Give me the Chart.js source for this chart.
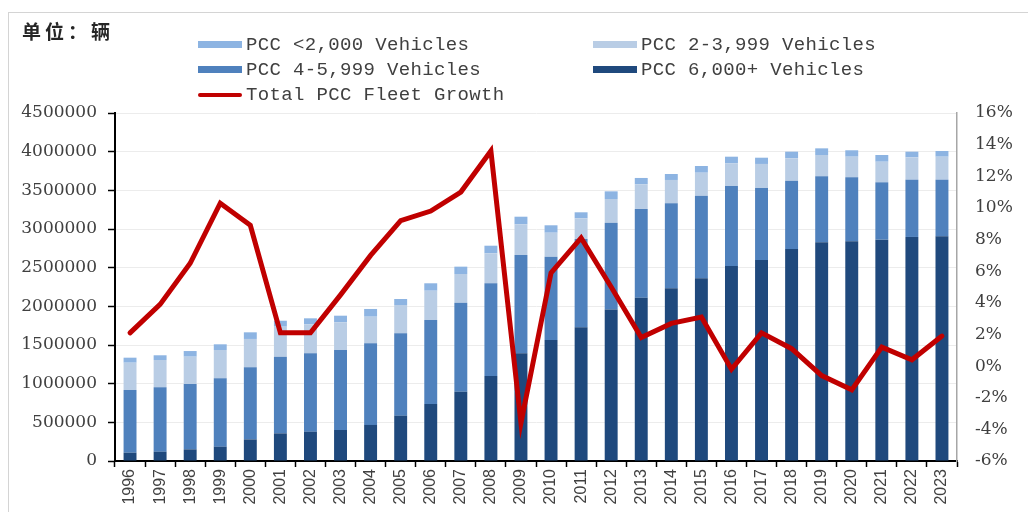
<!DOCTYPE html>
<html>
<head>
<meta charset="utf-8">
<script src="https://cdn.jsdelivr.net/npm/chart.js@4.4.1/dist/chart.umd.min.js"></script>
<style>
  html, body { margin: 0; padding: 0; background: #fff; }
  #wrap { position: relative; width: 1028px; height: 512px; overflow: hidden; }
  #frame { position: absolute; left: 8px; top: 12px; width: 1100px; height: 600px; border: 1px solid #d4d4d4; box-sizing: border-box; }
  #chart { position: absolute; left: 0; top: 0; }
  #unit { position: absolute; left: 22px; top: 17px; font-family: 'Noto Sans CJK SC', sans-serif; font-weight: 700; font-size: 19px; letter-spacing: 4px; color: #262626; }
  #legend { position: absolute; left: 198px; top: 32px; display: grid; grid-template-columns: 395px 395px; grid-auto-rows: 25px; }
  .item { display: flex; align-items: center; font-family: 'Liberation Mono', monospace; font-size: 19px; letter-spacing: 0.35px; color: #404040; white-space: pre; }
  .swatch { width: 44px; margin-right: 4px; }
</style>
</head>
<body>
<div id="wrap">
  <div id="frame"></div>
  <canvas id="chart" width="1028" height="512"></canvas>
  <div id="unit">单位：辆</div>
  <div id="legend"></div>
</div>
<script>
const years = ['1996', '1997', '1998', '1999', '2000', '2001', '2002', '2003', '2004', '2005',
  '2006', '2007', '2008', '2009', '2010', '2011', '2012', '2013', '2014', '2015',
  '2016', '2017', '2018', '2019', '2020', '2021', '2022', '2023'];

// fleet by size band (vehicles), stacked bottom to top
const pcc6000plus = [107000, 120000, 151000, 185000, 280000, 358000, 379000, 401000, 466000, 586000,
  737000, 897000, 1099000, 1392000, 1565000, 1729000, 1958000, 2112000, 2233000, 2362000,
  2522000, 2599000, 2741000, 2828000, 2841000, 2862000, 2897000, 2906000];
const pcc4to5999 = [811000, 833000, 845000, 884000, 931000, 991000, 1013000, 1034000, 1056000, 1065000,
  1086000, 1150000, 1199000, 1272000, 1077000, 1141000, 1124000, 1147000, 1099000, 1069000,
  1034000, 931000, 884000, 853000, 827000, 742000, 741000, 732000];
const pcc2to3999 = [353000, 353000, 353000, 366000, 367000, 388000, 375000, 358000, 344000, 366000,
  379000, 371000, 388000, 397000, 310000, 268000, 306000, 319000, 302000, 297000,
  294000, 311000, 289000, 276000, 267000, 266000, 289000, 297000];
const pccUnder2000 = [65000, 61000, 73000, 74000, 86000, 77000, 78000, 86000, 100000, 78000,
  96000, 95000, 98000, 98000, 96000, 78000, 99000, 82000, 77000, 87000,
  85000, 81000, 86000, 86000, 83000, 87000, 73000, 74000];

// total fleet growth, %
const fleetGrowth = [2.1, 3.9, 6.5, 10.3, 8.9, 2.1, 2.1, 4.5, 7.0, 9.2,
  9.8, 11.0, 13.6, -3.6, 5.9, 8.1, 5.0, 1.8, 2.7, 3.1,
  -0.2, 2.1, 1.1, -0.6, -1.5, 1.2, 0.4, 1.9];

const leftTickMax = 4500000;
const leftTickStep = 500000;
const rightTickMin = -6;
const rightTickMax = 16;
const rightTickStep = 2;

const colors = {
  under2000: '#8db4e2',
  to3999: '#b9cde5',
  to5999: '#4f81bd',
  plus6000: '#1f497d',
  growth: '#c00000',
};

const tickFont = { family: "'DejaVu Serif', serif", size: 17 };
const textColor = '#404040';

function barSet(label, data, color) {
  return {
    type: 'bar', label, data, backgroundColor: color, yAxisID: 'y', order: 1,
    barPercentage: 0.43, categoryPercentage: 1, stack: 'fleet',
  };
}

const datasets = [
  barSet('PCC 6,000+ Vehicles', pcc6000plus, colors.plus6000),
  barSet('PCC 4-5,999 Vehicles', pcc4to5999, colors.to5999),
  barSet('PCC 2-3,999 Vehicles', pcc2to3999, colors.to3999),
  barSet('PCC <2,000 Vehicles', pccUnder2000, colors.under2000),
  {
    type: 'line', label: 'Total PCC Fleet Growth', data: fleetGrowth, yAxisID: 'y1', order: 0,
    borderColor: colors.growth, borderWidth: 5, pointRadius: 0, tension: 0, fill: false,
    borderJoinStyle: 'miter', borderCapStyle: 'round',
  },
];

new Chart(document.getElementById('chart').getContext('2d'), {
  data: { labels: years, datasets },
  options: {
    responsive: false,
    animation: false,
    layout: { padding: { top: 113, left: 0, right: 0, bottom: 0 } },
    plugins: { legend: { display: false }, tooltip: { enabled: false } },
    scales: {
      x: {
        stacked: true,
        afterFit: (s) => { s.height = 51; },
        border: { color: '#000', width: 2 },
        grid: { drawOnChartArea: false, drawTicks: true, tickLength: 6, tickColor: '#000', tickWidth: 1.5 },
        ticks: {
          color: textColor, font: { family: "'Liberation Sans', sans-serif", size: 16 },
          minRotation: 90, maxRotation: 90, autoSkip: false, padding: 2,
        },
      },
      y: {
        stacked: true,
        position: 'left',
        min: 0, max: leftTickMax,
        afterFit: (s) => { s.width = 115; },
        border: { color: '#000', width: 2 },
        grid: { color: '#ececec', lineWidth: 1, drawTicks: true, tickLength: 7, tickColor: '#000', tickWidth: 1.5 },
        ticks: { stepSize: leftTickStep, color: textColor, font: tickFont, padding: 11, callback: (v) => String(v) },
      },
      y1: {
        position: 'right',
        min: rightTickMin, max: rightTickMax,
        afterFit: (s) => { s.width = 71; },
        border: { color: '#a6a6a6', width: 1.5 },
        grid: { drawOnChartArea: false, drawTicks: false },
        ticks: { stepSize: rightTickStep, color: textColor, font: tickFont, padding: 18, callback: (v) => v + '%' },
      },
    },
  },
});

// legend: two columns, bars first, growth line last
const legendOrder = [3, 2, 1, 0, 4];
const legendEl = document.getElementById('legend');
legendOrder.forEach((i) => {
  const ds = datasets[i];
  const item = document.createElement('div');
  item.className = 'item';
  const sw = document.createElement('span');
  sw.className = 'swatch';
  if (ds.type === 'line') {
    sw.style.height = '4px';
    sw.style.borderRadius = '2px';
    sw.style.background = ds.borderColor;
  } else {
    sw.style.height = '7px';
    sw.style.background = ds.backgroundColor;
  }
  item.appendChild(sw);
  item.appendChild(document.createTextNode(ds.label));
  legendEl.appendChild(item);
});
</script>
</body>
</html>
